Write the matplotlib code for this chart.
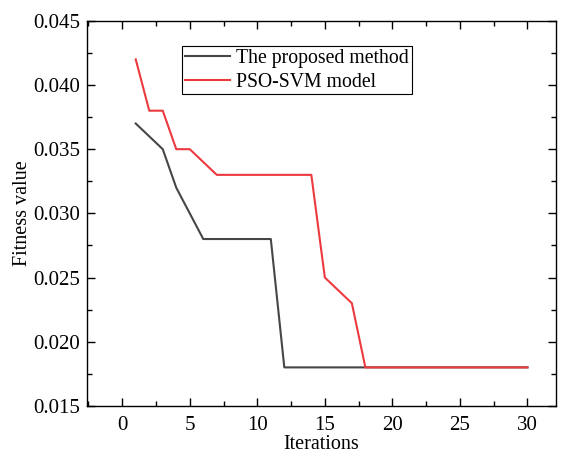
import matplotlib.pyplot as plt
from matplotlib.ticker import MultipleLocator

plt.rcParams['font.family'] = ['Liberation Serif', 'DejaVu Serif']
plt.rcParams['mathtext.fontset'] = 'stix'

# data
iterations = list(range(1, 31))
proposed = [0.037, 0.036, 0.035, 0.032, 0.030, 0.028, 0.028, 0.028, 0.028, 0.028,
            0.028] + [0.018] * 19
pso_svm = [0.042, 0.038, 0.038, 0.035, 0.035, 0.034, 0.033, 0.033, 0.033, 0.033,
           0.033, 0.033, 0.033, 0.033, 0.025, 0.024, 0.023] + [0.018] * 13

fig = plt.figure(figsize=(5.62, 4.53), dpi=100)
ax = fig.add_axes([0.155, 0.104, 0.834, 0.85])

ax.plot(iterations, proposed, color='#464646', lw=1.5, label='The proposed method')
ax.plot(iterations, pso_svm, color='#ec3a3f', lw=1.5, label='PSO-SVM model')

ax.set_xlim(-2.6, 32.1)
ax.set_ylim(0.015, 0.045)
ax.xaxis.set_major_locator(MultipleLocator(5))
ax.xaxis.set_minor_locator(MultipleLocator(2.5))
ax.yaxis.set_major_locator(MultipleLocator(0.005))
ax.yaxis.set_minor_locator(MultipleLocator(0.0025))
ax.tick_params(which='both', direction='in', top=True, right=True, labelsize=15)
ax.tick_params(which='major', length=6, width=1)
ax.tick_params(which='minor', length=3.5, width=1)
ax.tick_params(axis='x', which='major', pad=7.5)
ax.tick_params(axis='y', which='major', pad=5)
for s in ax.spines.values():
    s.set_linewidth(1)

ax.set_xlabel('Iterations', fontsize=14.5, labelpad=-0.5)
ax.set_ylabel('Fitness value', fontsize=14.5, labelpad=1)

leg = ax.legend(loc='upper left', bbox_to_anchor=(0.203, 0.935), fontsize=14.2,
                frameon=True, fancybox=False, edgecolor='black', framealpha=1,
                borderpad=0.14, handlelength=2.3, handletextpad=0.3,
                labelspacing=0.25, borderaxespad=0)
leg.get_frame().set_linewidth(0.8)

fig.savefig('out.png', dpi=100)
